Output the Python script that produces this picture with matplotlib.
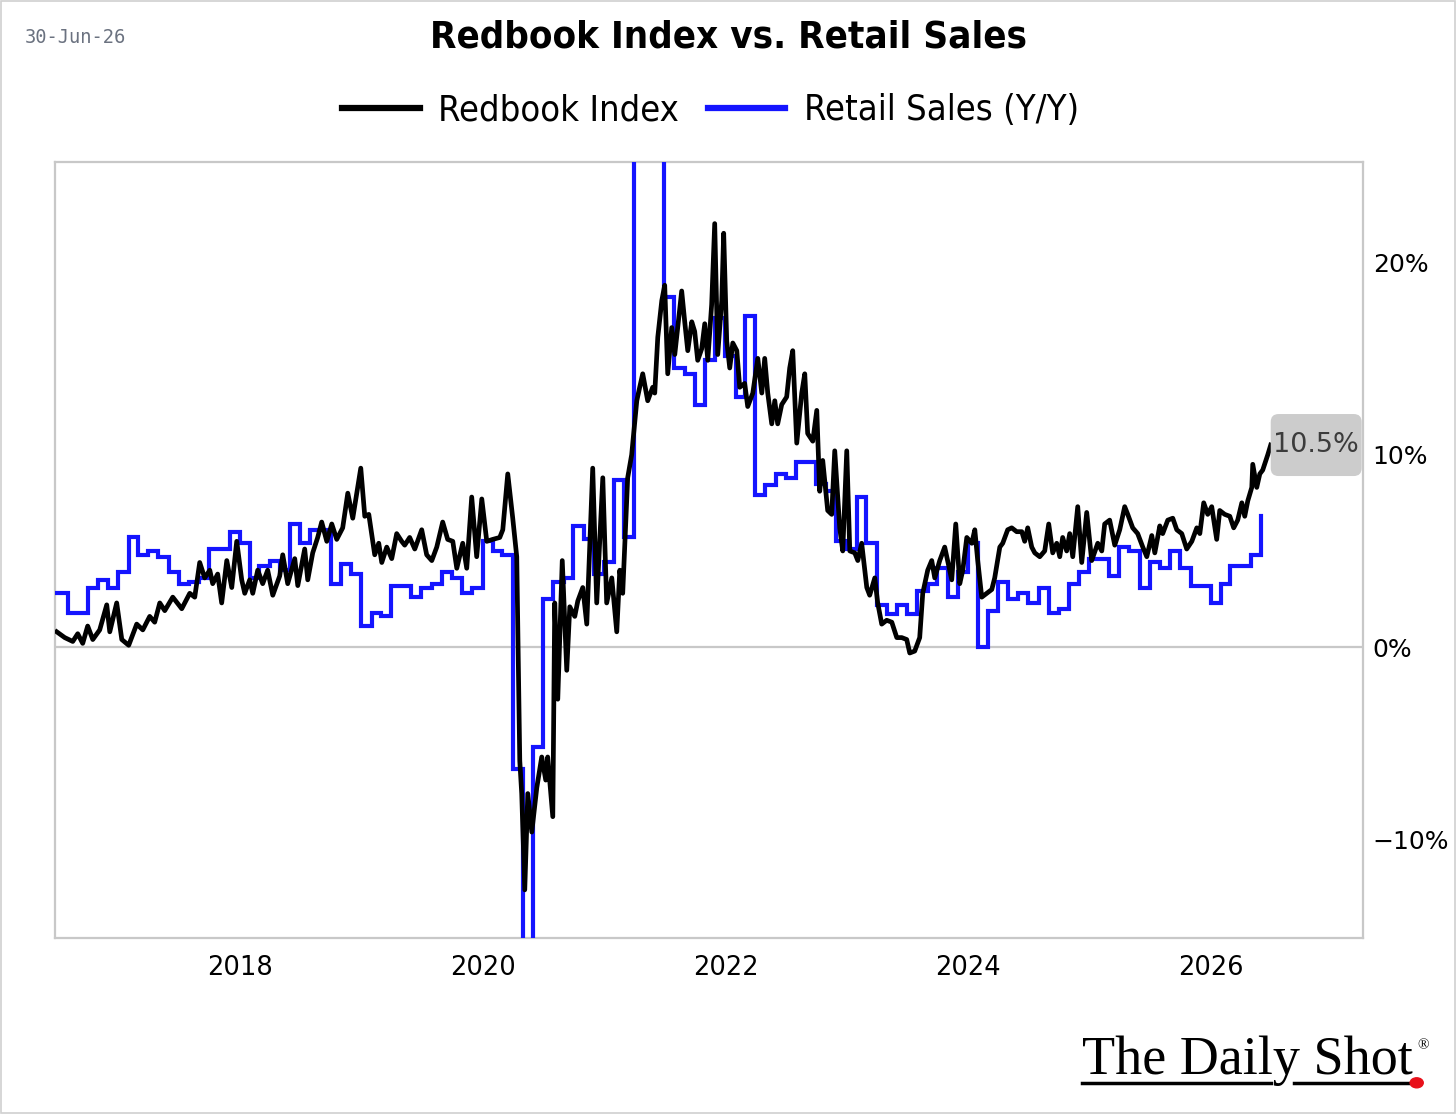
import matplotlib
matplotlib.use("Agg")
import matplotlib.pyplot as plt
from matplotlib import font_manager
from matplotlib.patches import FancyBboxPatch, Rectangle, Circle
from matplotlib.lines import Line2D
import numpy as np
import pandas as pd

# Redbook index, y/y %, weekly (decimal year, value)
rb_year = [
    2016.490, 2016.556, 2016.622, 2016.663, 2016.704, 2016.745, 2016.787, 2016.844,
    2016.902, 2016.927, 2016.984, 2017.026, 2017.083, 2017.149, 2017.199, 2017.256,
    2017.297, 2017.339, 2017.380, 2017.446, 2017.520, 2017.586, 2017.627, 2017.668,
    2017.709, 2017.751, 2017.775, 2017.816, 2017.849, 2017.891, 2017.932, 2017.973,
    2018.014, 2018.039, 2018.080, 2018.105, 2018.146, 2018.187, 2018.228, 2018.270,
    2018.327, 2018.352, 2018.393, 2018.451, 2018.476, 2018.533, 2018.558, 2018.599,
    2018.640, 2018.673, 2018.715, 2018.756, 2018.797, 2018.846, 2018.888, 2018.929,
    2018.995, 2019.028, 2019.061, 2019.110, 2019.143, 2019.168, 2019.209, 2019.250,
    2019.291, 2019.332, 2019.357, 2019.398, 2019.440, 2019.497, 2019.538, 2019.580,
    2019.621, 2019.670, 2019.711, 2019.753, 2019.786, 2019.835, 2019.868, 2019.909,
    2019.950, 2019.992, 2020.033, 2020.082, 2020.140, 2020.165, 2020.206, 2020.247,
    2020.280, 2020.305, 2020.321, 2020.346, 2020.371, 2020.404, 2020.445, 2020.486,
    2020.519, 2020.535, 2020.577, 2020.593, 2020.618, 2020.655, 2020.692, 2020.717,
    2020.758, 2020.783, 2020.824, 2020.857, 2020.906, 2020.939, 2020.989, 2021.021,
    2021.063, 2021.104, 2021.129, 2021.153, 2021.194, 2021.227, 2021.269, 2021.293,
    2021.318, 2021.359, 2021.400, 2021.417, 2021.442, 2021.475, 2021.499, 2021.524,
    2021.557, 2021.582, 2021.606, 2021.639, 2021.664, 2021.689, 2021.722, 2021.746,
    2021.771, 2021.804, 2021.829, 2021.854, 2021.886, 2021.911, 2021.936, 2021.969,
    2021.985, 2022.010, 2022.035, 2022.060, 2022.093, 2022.117, 2022.158, 2022.183,
    2022.225, 2022.266, 2022.299, 2022.323, 2022.348, 2022.381, 2022.406, 2022.430,
    2022.463, 2022.504, 2022.529, 2022.554, 2022.587, 2022.628, 2022.653, 2022.677,
    2022.719, 2022.752, 2022.776, 2022.801, 2022.842, 2022.875, 2022.900, 2022.941,
    2022.966, 2022.999, 2023.024, 2023.065, 2023.090, 2023.122, 2023.164, 2023.188,
    2023.230, 2023.254, 2023.287, 2023.328, 2023.370, 2023.411, 2023.452, 2023.493,
    2023.518, 2023.559, 2023.600, 2023.625, 2023.666, 2023.699, 2023.724, 2023.765,
    2023.806, 2023.864, 2023.897, 2023.930, 2023.955, 2023.988, 2024.029, 2024.054,
    2024.078, 2024.111, 2024.153, 2024.194, 2024.218, 2024.260, 2024.284, 2024.325,
    2024.358, 2024.399, 2024.441, 2024.465, 2024.490, 2024.523, 2024.548, 2024.589,
    2024.630, 2024.663, 2024.696, 2024.729, 2024.754, 2024.778, 2024.811, 2024.836,
    2024.861, 2024.902, 2024.935, 2024.976, 2025.017, 2025.067, 2025.100, 2025.124,
    2025.165, 2025.207, 2025.248, 2025.289, 2025.314, 2025.355, 2025.396, 2025.438,
    2025.471, 2025.512, 2025.537, 2025.578, 2025.602, 2025.644, 2025.685, 2025.718,
    2025.759, 2025.800, 2025.842, 2025.883, 2025.908, 2025.940, 2025.973, 2026.006,
    2026.047, 2026.072, 2026.113, 2026.155, 2026.187, 2026.220, 2026.254, 2026.278,
    2026.303, 2026.336, 2026.344, 2026.377, 2026.402, 2026.426, 2026.468, 2026.492,
]
rb_yoy = [
    0.8, 0.5, 0.3, 0.7, 0.2, 1.1, 0.4, 0.9,
    2.2, 0.8, 2.3, 0.4, 0.1, 1.2, 0.9, 1.6,
    1.3, 2.3, 1.9, 2.6, 2.0, 2.8, 2.6, 4.4,
    3.6, 4.0, 3.3, 3.8, 2.3, 4.5, 3.1, 5.5,
    3.5, 2.8, 3.5, 2.8, 4.0, 3.3, 4.0, 2.7,
    3.7, 4.8, 3.3, 4.6, 3.2, 5.1, 3.5, 4.9,
    5.7, 6.5, 5.5, 6.4, 5.6, 6.2, 8.0, 6.7,
    9.3, 6.8, 6.9, 4.8, 5.4, 4.4, 5.2, 4.6,
    5.9, 5.5, 5.3, 5.7, 5.1, 6.1, 4.8, 4.5,
    5.2, 6.5, 5.6, 5.5, 4.1, 5.4, 4.1, 7.8,
    4.7, 7.7, 5.5, 5.6, 5.7, 6.1, 9.0, 6.7,
    4.7, -5.9, -7.6, -12.6, -7.6, -9.6, -7.3, -5.7,
    -6.9, -5.7, -8.8, 2.3, -2.7, 4.5, -1.2, 2.1,
    1.6, 2.4, 3.1, 1.2, 9.3, 2.3, 8.8, 2.3,
    3.6, 0.8, 4.0, 2.8, 8.8, 10.0, 12.8, 13.5,
    14.2, 12.8, 13.5, 13.2, 16.1, 18.0, 18.8, 14.2,
    16.6, 15.2, 16.6, 18.5, 16.9, 15.4, 16.9, 16.4,
    14.9, 15.5, 16.8, 14.9, 17.8, 22.0, 15.2, 18.0,
    21.5, 15.9, 14.5, 15.8, 15.4, 13.5, 13.7, 12.5,
    13.2, 15.0, 13.2, 15.0, 13.2, 11.6, 12.8, 11.6,
    12.6, 13.0, 14.5, 15.4, 10.6, 13.2, 14.2, 11.1,
    10.7, 12.3, 8.1, 9.7, 7.1, 6.9, 10.2, 6.2,
    5.0, 10.2, 5.0, 4.9, 4.5, 5.4, 3.1, 2.7,
    3.6, 2.3, 1.2, 1.4, 1.3, 0.5, 0.5, 0.4,
    -0.3, -0.2, 0.5, 2.8, 4.0, 4.5, 3.6, 4.5,
    5.2, 3.5, 6.4, 3.3, 4.0, 5.7, 5.4, 6.1,
    4.5, 2.6, 2.8, 3.0, 3.6, 5.2, 5.4, 6.1,
    6.2, 6.0, 6.0, 5.5, 6.2, 5.2, 4.9, 4.7,
    5.0, 6.4, 4.9, 5.4, 4.7, 5.7, 5.0, 5.9,
    4.7, 7.3, 4.4, 7.0, 4.5, 5.4, 5.0, 6.4,
    6.6, 5.3, 6.1, 7.3, 6.9, 6.2, 5.9, 5.2,
    4.7, 5.8, 4.9, 6.3, 5.9, 6.6, 6.7, 6.1,
    5.9, 5.1, 5.5, 6.2, 5.9, 7.5, 6.9, 7.3,
    5.6, 7.1, 6.9, 6.8, 6.2, 6.6, 7.5, 6.8,
    7.6, 8.3, 9.5, 8.3, 9.0, 9.2, 10.0, 10.5,
]

# Retail sales, y/y %, monthly from Jun-2016 to May-2026 (month-end dates)
rs_start = "2016-06-30"
rs_yoy = [
    2.8, 1.8, 1.8, 3.1, 3.5, 3.1, 3.9, 5.7, 4.8, 5.0, 4.7, 3.9,
    3.3, 3.4, 3.6, 5.1, 5.1, 6.0, 5.4, 3.6, 4.2, 4.5, 4.0, 6.4,
    5.4, 6.1, 6.1, 3.3, 4.3, 3.8, 1.1, 1.8, 1.6, 3.2, 3.2, 2.6,
    3.1, 3.3, 3.9, 3.6, 2.8, 3.1, 5.5, 5.0, 4.8, -6.3, -19.9, -5.2,
    2.5, 3.4, 3.6, 6.3, 5.6, 3.8, 4.4, 8.7, 5.7, 28.5, 52.0, 28.3,
    18.2, 14.5, 14.2, 12.6, 14.9, 17.1, 15.1, 13.0, 17.2, 7.9, 8.4, 9.0,
    8.8, 9.6, 9.6, 8.5, 8.1, 5.5, 5.1, 7.8, 5.4, 2.2, 1.7, 2.2,
    1.7, 2.9, 3.3, 4.1, 2.6, 3.9, 5.4, 0.0, 1.9, 3.4, 2.5, 2.8,
    2.3, 3.1, 1.8, 2.0, 3.3, 3.9, 4.6, 4.6, 3.7, 5.2, 5.0, 3.1,
    4.4, 4.1, 5.0, 4.1, 3.2, 3.2, 2.3, 3.3, 4.2, 4.2, 4.8, 6.8,
]

year_ticks = [2018, 2020, 2022, 2024, 2026]
pct_ticks = [-10, 0, 10, 20]


def narrow_font(weight):
    # condensed face if the machine has one
    for fam, stretch in [("DejaVu Sans", "condensed"), ("Liberation Sans Narrow", "normal")]:
        fp = font_manager.FontProperties(family=fam, stretch=stretch, weight=weight)
        try:
            path = font_manager.findfont(fp, fallback_to_default=False)
        except Exception:
            continue
        if "ondensed" in path or "Narrow" in path:
            return font_manager.FontProperties(fname=path)
    return None


title_fp = narrow_font("bold")
legend_fp = narrow_font("normal")

rs_dates = pd.date_range(rs_start, periods=len(rs_yoy), freq="ME")
rs_year = rs_dates.year + (rs_dates.dayofyear - 0.5) / np.where(rs_dates.is_leap_year, 366, 365)

fig = plt.figure(figsize=(14.56, 11.14), dpi=100)
ax = fig.add_axes([0.0378, 0.158, 0.8983, 0.6966])

grey = "#c8c8c8"
ax.axhline(0, color=grey, lw=1.6, zorder=1)
ax.plot(rs_year, rs_yoy, color="#1414ff", lw=3.0, drawstyle="steps-post",
        label="Retail Sales (Y/Y)", zorder=3, solid_joinstyle="miter")
ax.plot(rb_year, rb_yoy, color="black", lw=3.4, label="Redbook Index", zorder=4)

ax.set_xlim(2016.476, 2027.252)
ax.set_ylim(-15.1, 25.2)
ax.set_xticks(year_ticks)
ax.set_xticklabels([str(y) for y in year_ticks])
ax.set_yticks(pct_ticks)
ax.set_yticklabels([("\u2212" if v < 0 else "") + f"{abs(v)}%" for v in pct_ticks])
ax.yaxis.tick_right()
ax.tick_params(axis="x", length=0, pad=12, labelsize=18.5)
ax.tick_params(axis="y", length=0, pad=7, labelsize=18)
for s in ax.spines.values():
    s.set_color(grey)
    s.set_linewidth(1.6)

# last-value label box
last_t, last_v = rb_year[-1], rb_yoy[-1]
x0, x1 = ax.get_xlim()
y0, y1 = ax.get_ylim()
bx = (last_t - x0) / (x1 - x0)
by = (last_v - y0) / (y1 - y0)
bw, bh = 1.0 - bx - 0.001, 62 / 776
box = FancyBboxPatch((bx, by - bh / 2), bw, bh, boxstyle="round,pad=0,rounding_size=0.006",
                     mutation_aspect=1308 / 776, transform=ax.transAxes,
                     facecolor="#cccccc", edgecolor="none", zorder=5, clip_on=False)
ax.add_patch(box)
ax.text(bx + bw / 2, by, f"{last_v}%", transform=ax.transAxes, ha="center", va="center",
        fontsize=19.5, color="#3c3c3c", zorder=6)

# titles and legend
if title_fp is not None:
    title_fp.set_size(27.5)
    fig.text(0.5, 0.966, "Redbook Index vs. Retail Sales", ha="center", va="center",
             fontproperties=title_fp)
else:
    fig.text(0.5, 0.966, "Redbook Index vs. Retail Sales", ha="center", va="center",
             fontsize=27, fontweight="bold", family="Roboto")
fig.text(0.017, 0.966, "30-Jun-26", ha="left", va="center", fontsize=13.5,
         family="DejaVu Sans Mono", color="#6b7280")
if legend_fp is not None:
    legend_fp.set_size(26)
    leg_prop = legend_fp
else:
    leg_prop = {"family": "Roboto", "size": 24}
fig.legend(handles=[Line2D([], [], color="black", lw=4.5),
                    Line2D([], [], color="#1414ff", lw=4.5)],
           labels=["Redbook Index", "Retail Sales (Y/Y)"],
           loc="center", bbox_to_anchor=(0.488, 0.901), ncol=2, frameon=False,
           prop=leg_prop, handlelength=2.15, handletextpad=0.5, columnspacing=0.8)

# logo
fig.text(0.743, 0.036, "The Daily Shot", ha="left", va="baseline", fontsize=39,
         family="Liberation Serif")
fig.text(0.9775, 0.061, "\u00ae", ha="center", va="center", fontsize=11, family="Liberation Serif")
fig.add_artist(Line2D([0.743, 0.873], [0.028, 0.028], color="black", lw=2.5))
fig.add_artist(Line2D([0.889, 0.972], [0.028, 0.028], color="black", lw=2.5))
fig.add_artist(Circle((0.973, 0.028), 0.0045, transform=fig.transFigure, color="#e8101a",
                      zorder=5))

fig.add_artist(Rectangle((0.0005, 0.0005), 0.999, 0.999, transform=fig.transFigure,
                         fill=False, edgecolor="#d0d0d0", lw=1.2))

fig.savefig("out.png", dpi=100)
